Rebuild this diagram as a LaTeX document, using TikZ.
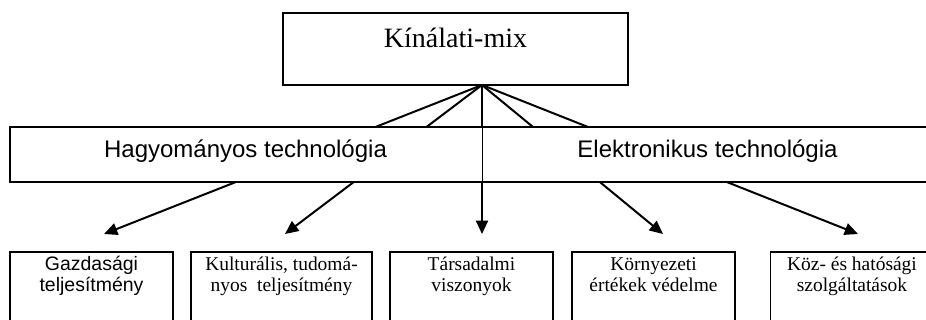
\documentclass[tikz,border=0pt]{standalone}
\usepackage{fontspec}
\setmainfont{Liberation Serif}
\setsansfont{Liberation Sans}
\usepackage{tikz}
\usetikzlibrary{calc,arrows.meta}

\newcommand{\twolines}[2]{\begin{tabular}[t]{@{}c@{}}#1\\#2\end{tabular}}

\tikzset{
  frame/.style={draw=black, line width=0.8pt, fill=white, inner sep=0pt},
  areabox/.style={frame, anchor=base, minimum width=122.25pt,
    text height=14.25pt, text depth=50pt, font=\fontsize{14.6}{15.5}\selectfont},
  techtext/.style={anchor=base, font=\sffamily\fontsize{18}{22}\selectfont},
  feed/.style={line width=1.5pt, -{Triangle[length=10pt,width=9pt]}}
}

\begin{document}
\begin{tikzpicture}[x=0.75pt,y=-0.75pt]
  \clip (0,0) rectangle (926,320);

  % offer mix on top
  \node[
    frame,
    anchor=base,
    minimum width=258.75pt,
    text height=26.25pt,
    text depth=27.75pt,
    font=\fontsize{21}{25}\selectfont
  ] (mix) at (455.5,48) {Kínálati-mix};
  \coordinate (apex) at (482,85);

  % arrow ends above the areas
  \coordinate (t1) at (104,234);
  \coordinate (t2) at (285,234);
  \coordinate (t3) at (482,234);
  \coordinate (t4) at (663,234);
  \coordinate (t5) at (858,234);

  \foreach \t in {t1,t2,t3,t4,t5}
    \draw[feed] (apex) -- (\t);

  % technology bar, covers the arrows
  \node[
    frame,
    minimum width=697.5pt,
    minimum height=41.25pt
  ] (bar) at (475,154.5) {};
  \node[techtext] (hagy) at (245.5,158) {Hagyományos technológia};
  \node[techtext] (elek) at (707.5,158) {Elektronikus technológia};
  \draw[line width=0.5pt] (bar.north -| apex) -- (bar.south -| apex);

  % areas
  \node[areabox, font=\sffamily\fontsize{14.6}{15.5}\selectfont] (gazd) at (91.5,271)
    {\twolines{Gazdasági}{teljesítmény}};
  \node[areabox, minimum width=135.75pt] (kult) at (281.5,271)
    {\twolines{Kulturális, tudomá-}{nyos~~teljesítmény}};
  \node[areabox] (tars) at (471.5,271)
    {\twolines{Társadalmi}{viszonyok}};
  \node[areabox] (korn) at (653.5,271)
    {\twolines{Környezeti}{értékek védelme}};
  \node[areabox] (hat) at (852,271)
    {\twolines{Köz- és hatósági}{szolgáltatások}};
\end{tikzpicture}
\end{document}
